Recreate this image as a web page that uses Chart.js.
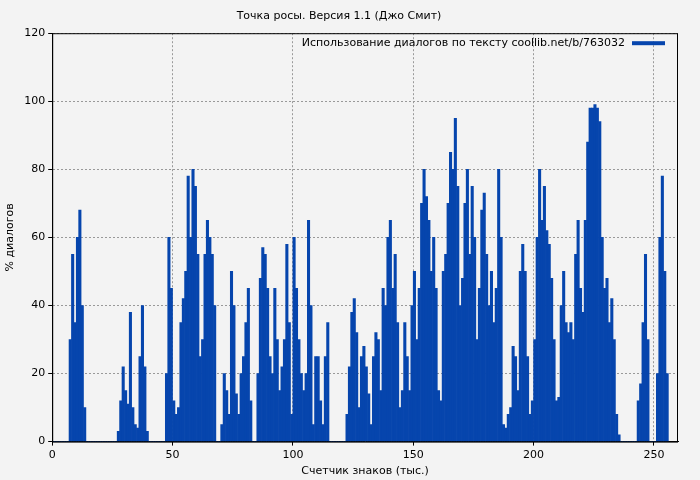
<!DOCTYPE html>
<html>
<head>
<meta charset="utf-8">
<script src="https://cdn.jsdelivr.net/npm/chart.js@4"></script>
<style>
  body { margin: 0; background: #f3f3f3; }
  #wrap { width: 700px; height: 480px; }
</style>
</head>
<body>
<div id="wrap"><canvas id="chart"></canvas></div>
<script>
const chartTitle = "Точка росы. Версия 1.1 (Джо Смит)";
const seriesLabel = "Использование диалогов по тексту coollib.net/b/763032";
const xTitle = "Счетчик знаков (тыс.)";
const yTitle = "% диалогов";
const xTicks = [0, 50, 100, 150, 200, 250];

// one value per thousand characters, starting at 0
const dialogPercent = [
  0, 0, 0, 0, 0, 0, 0, 30, 55, 35, 60, 68, 40, 10, 0, 0, 0, 0, 0, 0,
  0, 0, 0, 0, 0, 0, 0, 3, 12, 22, 15, 11, 38, 10, 5, 4, 25, 40, 22, 3,
  0, 0, 0, 0, 0, 0, 0, 20, 60, 45, 12, 8, 10, 35, 42, 50, 78, 60, 80, 75,
  55, 25, 30, 55, 65, 60, 55, 40, 0, 0, 5, 20, 15, 8, 50, 40, 14, 8, 20, 25,
  35, 45, 12, 0, 0, 20, 48, 57, 55, 45, 25, 20, 45, 30, 15, 22, 30, 58, 35, 8,
  60, 45, 30, 20, 15, 20, 65, 40, 5, 25, 25, 12, 5, 25, 35, 0, 0, 0, 0, 0,
  0, 0, 8, 22, 38, 42, 32, 10, 25, 28, 22, 14, 5, 25, 32, 30, 15, 45, 40, 60,
  65, 45, 55, 35, 10, 15, 35, 25, 15, 40, 50, 30, 45, 70, 80, 72, 65, 50, 60, 45,
  15, 12, 50, 55, 70, 85, 80, 95, 75, 40, 48, 70, 80, 55, 75, 60, 30, 45, 68, 73,
  55, 40, 50, 35, 45, 80, 60, 5, 4, 8, 10, 28, 25, 15, 50, 58, 50, 25, 8, 12,
  30, 60, 80, 65, 75, 62, 58, 48, 30, 12, 13, 40, 50, 35, 32, 35, 30, 55, 65, 45,
  38, 65, 88, 98, 98, 99, 98, 94, 60, 45, 48, 35, 42, 30, 8, 2, 0, 0, 0, 0,
  0, 0, 0, 12, 17, 35, 55, 30, 0, 0, 0, 20, 60, 78, 50, 20
];

const points = dialogPercent.map((v, i) => ({ x: i + 0.5, y: v }));

const insideLegend = {
  id: "insideLegend",
  afterDraw(chart) {
    const { ctx, chartArea } = chart;
    ctx.save();
    // frame around the plot
    ctx.strokeStyle = "#000";
    ctx.lineWidth = 1;
    ctx.strokeRect(chartArea.left + 0.5, chartArea.top + 0.5,
      chartArea.right - chartArea.left - 1, chartArea.bottom - chartArea.top);
    ctx.font = "11px 'DejaVu Sans'";
    ctx.fillStyle = "#000";
    ctx.textAlign = "right";
    ctx.textBaseline = "middle";
    const y = chartArea.top + 10;
    ctx.fillText(seriesLabel, chartArea.right - 53, y);
    ctx.fillStyle = "#0645ad";
    ctx.fillRect(chartArea.right - 46, y - 2, 33, 4);
    ctx.restore();
  }
};

const bgPlugin = {
  id: "bg",
  beforeDraw(chart) {
    const { ctx, width, height } = chart;
    ctx.save();
    ctx.fillStyle = "#f3f3f3";
    ctx.fillRect(0, 0, width, height);
    ctx.restore();
  }
};

const grid = {
  color: "#999",
  drawTicks: true,
  tickColor: "#000",
  tickLength: 4
};
const border = { display: true, color: "#000", width: 1, dash: [2, 2] };

new Chart(document.getElementById("chart"), {
  type: "bar",
  data: {
    datasets: [{
      label: seriesLabel,
      data: points,
      backgroundColor: "#0645ad",
      borderWidth: 0,
      barPercentage: 1,
      categoryPercentage: 1
    }]
  },
  options: {
    responsive: true,
    maintainAspectRatio: false,
    animation: false,
    layout: { padding: { top: 0, right: 22, bottom: 2, left: 0 } },
    scales: {
      x: {
        type: "linear",
        min: 0,
        max: 260,
        offset: false,
        afterBuildTicks: (axis) => { axis.ticks = xTicks.map(v => ({ value: v })); },
        grid: Object.assign({ offset: false }, grid),
        border: border,
        ticks: { color: "#000", font: { family: "DejaVu Sans", size: 11 }, maxRotation: 0 },
        title: { display: true, text: xTitle, color: "#000", font: { family: "DejaVu Sans", size: 11 }, padding: 0 }
      },
      y: {
        min: 0,
        max: 120,
        ticks: { stepSize: 20, color: "#000", font: { family: "DejaVu Sans", size: 11 } },
        grid: grid,
        border: border,
        title: { display: true, text: yTitle, color: "#000", font: { family: "DejaVu Sans", size: 11 }, padding: 4 }
      }
    },
    plugins: {
      legend: { display: false },
      tooltip: { enabled: false },
      title: {
        display: true,
        text: chartTitle,
        color: "#000",
        font: { family: "DejaVu Sans", size: 11, weight: "normal" },
        padding: { top: 10, bottom: 10 }
      }
    }
  },
  plugins: [bgPlugin, insideLegend]
});
</script>
</body>
</html>
